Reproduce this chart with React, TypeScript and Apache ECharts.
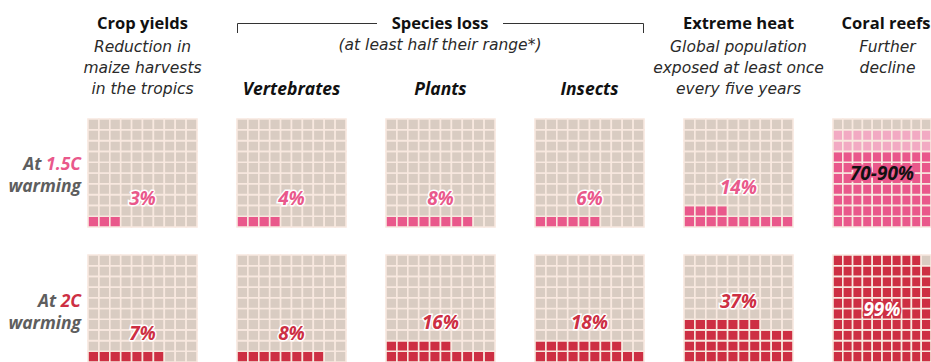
import React, { useEffect, useRef } from "react";
import * as echarts from "echarts";

const columns = ["Crop yields", "Vertebrates", "Plants", "Insects", "Extreme heat", "Coral reefs"];
const warming15 = [3, 4, 8, 6, 14, 70];
const warming15Upper = [3, 4, 8, 6, 14, 90];
const warming2 = [7, 8, 16, 18, 37, 99];
const warming2Upper = [7, 8, 16, 18, 37, 99];
const labels15 = ["3%", "4%", "8%", "6%", "14%", "70-90%"];
const labels2 = ["7%", "8%", "16%", "18%", "37%", "99%"];

const FONT = "'Open Sans', Lato, sans-serif";
const SUBFONT = "'DejaVu Sans', 'Open Sans', sans-serif";
const GRAY = "#d9ccc2";
const LINE = "#f8e8df";
const PINK = "#e9588b";
const LIGHTPINK = "#f2aac3";
const RED = "#cd2f43";

function cellsFor(v: number, upper: number) {
  const out: number[][] = [];
  for (let k = 0; k < 100; k++) {
    const cat = k < v ? 1 : k < upper ? 2 : 0;
    out.push([k % 10, Math.floor(k / 10), cat]);
  }
  return out;
}

export default function App() {
  const ref = useRef<HTMLDivElement>(null);
  useEffect(() => {
    const chart = echarts.init(ref.current!, undefined, { renderer: "svg" });
    const grids: any[] = [];
    const xAxes: any[] = [];
    const yAxes: any[] = [];
    const series: any[] = [];
    const labelSpecs: any[] = [];
    const rows = [
      { vals: warming15, upper: warming15Upper, labels: labels15, top: 119, color: PINK },
      { vals: warming2, upper: warming2Upper, labels: labels2, top: 255, color: RED },
    ];
    let gi = 0;
    rows.forEach((r, ri) => {
      columns.forEach((_, ci) => {
        grids.push({ left: 88 + ci * 149, top: r.top, width: 109, height: 108 });
        xAxes.push({ gridIndex: gi, type: "value", min: 0, max: 10, show: false });
        yAxes.push({ gridIndex: gi, type: "value", min: 0, max: 10, show: false });
        const v = r.vals[ci];
        const up = r.upper[ci];
        const fillColor = r.color;
        series.push({
          type: "custom",
          xAxisIndex: gi,
          yAxisIndex: gi,
          clip: false,
          data: cellsFor(v, up),
          renderItem: (params: any, api: any) => {
            const c = api.value(0);
            const rr = api.value(1);
            const cat = api.value(2);
            const p0 = api.coord([c, rr + 1]);
            const p1 = api.coord([c + 1, rr]);
            return {
              type: "rect",
              shape: { x: p0[0], y: p0[1], width: p1[0] - p0[0], height: p1[1] - p0[1] },
              style: {
                fill: cat === 1 ? fillColor : cat === 2 ? LIGHTPINK : GRAY,
                stroke: LINE,
                lineWidth: 1.6,
              },
            };
          },
        });
        const high = v >= 50;
        const filledRows = Math.ceil(up / 10);
        const ly = high ? 5 : filledRows + 1.7;
        const isCoral15 = high && ri === 0;
        labelSpecs.push({
          gi,
          pos: [5, ly],
          text: r.labels[ci],
          color: high ? (isCoral15 ? "#111" : "#fff") : r.color,
          border: high ? (isCoral15 ? PINK : RED) : "#fff",
          bw: 3,
        });
        gi++;
      });
    });

    const txt = (text: string, x: number, y: number, opts: any = {}) => ({
      type: "text",
      x,
      y,
      style: {
        text,
        textAlign: "center",
        textVerticalAlign: "middle",
        fontFamily: FONT,
        fontSize: 16,
        fill: "#1a1a1a",
        ...opts,
      },
    });
    const centers = columns.map((_, i) => 88 + i * 149 + 54.5);
    const head = { fontWeight: "bold", fontSize: 16.5, fill: "#111" };
    const sub = { fontStyle: "italic", fontFamily: SUBFONT, fontSize: 15.5, fill: "#2a2a2a", lineHeight: 21 };
    const subHead = { fontStyle: "italic", fontWeight: "bold", fontSize: 17.5, fill: "#111" };
    const rowLab = (b: string, col: string, y: number) => ({
      type: "text",
      x: 81,
      y,
      style: {
        text: `{a|At }{b|${b}}\n{a|warming}`,
        textAlign: "right",
        textVerticalAlign: "middle",
        rich: {
          a: { fontFamily: FONT, fontSize: 17.5, fontWeight: "bold", fontStyle: "italic", fill: "#5e5e5e", color: "#5e5e5e", lineHeight: 22 },
          b: { fontFamily: FONT, fontSize: 17.5, fontWeight: "bold", fontStyle: "italic", fill: col, color: col, lineHeight: 22 },
        },
      },
    });

    const graphic: any[] = [
      txt("Crop yields", centers[0], 22, head),
      txt("Reduction in\nmaize harvests\nin the tropics", centers[0], 68, sub),
      txt("Species loss", 440, 22, head),
      txt("(at least half their range*)", 440, 45, sub),
      txt(columns[1], centers[1], 88, subHead),
      txt(columns[2], centers[2], 88, subHead),
      txt(columns[3], centers[3], 88, subHead),
      txt("Extreme heat", centers[4], 22, head),
      txt("Global population\nexposed at least once\nevery five years", centers[4], 68, sub),
      txt("Coral reefs", 886, 22, head),
      txt("Further\ndecline", centers[5], 57.5, sub),
      {
        type: "polyline",
        shape: { points: [[237.5, 33], [237.5, 23.5], [377, 23.5]] },
        style: { stroke: "#333", lineWidth: 1, fill: null },
      },
      {
        type: "polyline",
        shape: { points: [[503, 23.5], [643.5, 23.5], [643.5, 33]] },
        style: { stroke: "#333", lineWidth: 1, fill: null },
      },
      rowLab("1.5C", PINK, 174),
      rowLab("2C", RED, 311),
    ];

    chart.setOption({
      animation: false,
      backgroundColor: "#fff",
      grid: grids,
      xAxis: xAxes,
      yAxis: yAxes,
      series,
      graphic,
    });

    const labelGraphics = labelSpecs.map((s) => {
      const p = chart.convertToPixel({ gridIndex: s.gi } as any, s.pos) as number[];
      return {
        type: "text",
        x: p[0],
        y: p[1],
        z: 100,
        style: {
          text: s.text,
          textAlign: "center",
          textVerticalAlign: "middle",
          fontFamily: FONT,
          fontSize: 19,
          fontWeight: "bold",
          fontStyle: "italic",
          fill: s.color,
          stroke: s.border,
          lineWidth: s.bw,
        },
      };
    });
    chart.setOption({ graphic: [...graphic, ...labelGraphics] });
    return () => chart.dispose();
  }, []);
  return <div ref={ref} style={{ position: "fixed", left: 0, top: 0, width: 931, height: 362 }} />;
}
